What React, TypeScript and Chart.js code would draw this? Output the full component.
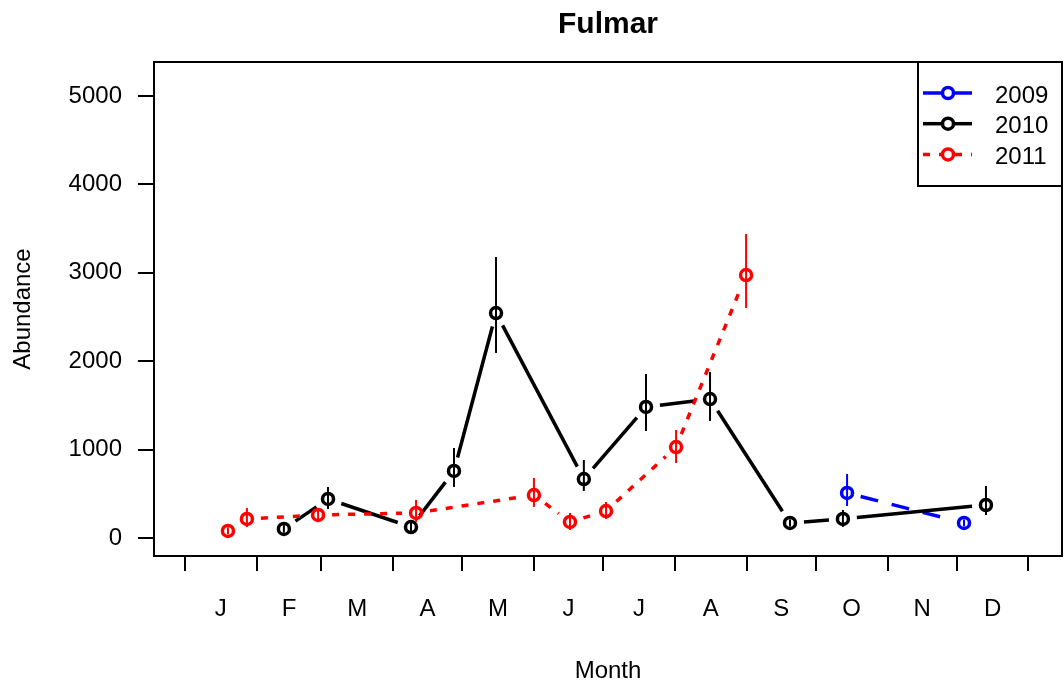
import React, { useEffect, useRef } from "react";
import { Chart, registerables } from "chart.js";

Chart.register(...registerables);

// ---- axis data ----
const monthLabels = ["J", "F", "M", "A", "M", "J", "J", "A", "S", "O", "N", "D"];
const monthStarts = [0, 31, 59, 90, 120, 151, 181, 212, 243, 273, 304, 334, 365];
const yTicks = [0, 1000, 2000, 3000, 4000, 5000];

// ---- series ----
const seriesNames = ["2009", "2010", "2011"];
const seriesColors = ["#0000FF", "#000000", "#FF0000"];

const day2009 = [286.5, 337.1];
const abund2009 = [509, 170];
const lo2009 = [362, 130];
const hi2009 = [724, 210];

const day2010 = [42.8, 61.9, 97.8, 116.4, 134.6, 172.6, 199.5, 227.2, 261.8, 284.7, 346.6];
const abund2010 = [102, 441, 124, 758, 2545, 667, 1482, 1572, 170, 215, 373];
const lo2010 = [60, 328, 80, 577, 2093, 532, 1210, 1324, 130, 125, 260];
const hi2010 = [145, 577, 170, 1018, 3179, 882, 1855, 1878, 210, 317, 588];

const day2011 = [18.6, 26.8, 57.6, 100, 151, 166.6, 182.2, 212.5, 242.8];
const abund2011 = [79, 215, 260, 283, 486, 181, 305, 1029, 2975];
const lo2011 = [40, 124, 200, 181, 351, 90, 215, 848, 2602];
const hi2011 = [120, 339, 330, 430, 679, 283, 407, 1222, 3439];

const seriesDays = [day2009, day2010, day2011];
const seriesValues = [abund2009, abund2010, abund2011];
const seriesLo = [lo2009, lo2010, lo2011];
const seriesHi = [hi2009, hi2010, hi2011];

// ---- styles ----
const FONT = "'Liberation Sans', Arial, Helvetica, sans-serif";
const lineDashes = [[18, 14], [], [7, 9]];
const LINE_W = 3.5;
const GAP = 14;
const ERR_W = 2;

const midDays = monthStarts.slice(0, 12).map((s, i) => (s + monthStarts[i + 1]) / 2);
const xTickValues = [...monthStarts, ...midDays].sort((a, b) => a - b);

const rPlotPlugin = {
  id: "rplot",
  beforeDatasetsDraw(chart: any) {
    const ctx = chart.ctx;
    chart.data.datasets.forEach((ds: any, di: number) => {
      const pts = chart.getDatasetMeta(di).data;
      ctx.save();
      ctx.strokeStyle = seriesColors[di];
      ctx.lineWidth = LINE_W;
      ctx.lineCap = "butt";
      ctx.setLineDash(lineDashes[di]);
      for (let i = 0; i < pts.length - 1; i++) {
        const a = pts[i];
        const b = pts[i + 1];
        const dx = b.x - a.x;
        const dy = b.y - a.y;
        const L = Math.hypot(dx, dy);
        if (L <= 2 * GAP) continue;
        const ux = dx / L;
        const uy = dy / L;
        ctx.beginPath();
        ctx.moveTo(a.x + ux * GAP, a.y + uy * GAP);
        ctx.lineTo(b.x - ux * GAP, b.y - uy * GAP);
        ctx.stroke();
      }
      ctx.restore();
    });
  },
  afterDatasetsDraw(chart: any) {
    const ctx = chart.ctx;
    const ys = chart.scales.y;
    chart.data.datasets.forEach((ds: any, di: number) => {
      const pts = chart.getDatasetMeta(di).data;
      ctx.save();
      ctx.strokeStyle = seriesColors[di];
      ctx.lineWidth = ERR_W;
      pts.forEach((p: any, i: number) => {
        ctx.beginPath();
        ctx.moveTo(p.x, ys.getPixelForValue(seriesLo[di][i]));
        ctx.lineTo(p.x, ys.getPixelForValue(seriesHi[di][i]));
        ctx.stroke();
      });
      ctx.restore();
    });
  },
  afterDraw(chart: any) {
    const ctx = chart.ctx;
    const { left, right, top, bottom } = chart.chartArea;
    ctx.save();
    ctx.strokeStyle = "#000";
    ctx.lineWidth = 2;
    ctx.strokeRect(left, top, right - left, bottom - top);

    // legend
    const lw = 144;
    const lh = 124;
    const lx = right - lw;
    const ly = top;
    ctx.fillStyle = "#fff";
    ctx.fillRect(lx, ly, lw, lh);
    ctx.strokeRect(lx, ly, lw, lh);
    ctx.font = `24px ${FONT}`;
    ctx.textBaseline = "middle";
    ctx.textAlign = "left";
    seriesNames.forEach((name, i) => {
      const y = ly + 31 + i * 30.7;
      const cx = lx + 30;
      ctx.strokeStyle = seriesColors[i];
      ctx.lineWidth = LINE_W;
      ctx.setLineDash(lineDashes[i]);
      ctx.beginPath();
      ctx.moveTo(lx + 5, y);
      ctx.lineTo(cx - 7, y);
      ctx.stroke();
      ctx.beginPath();
      ctx.moveTo(cx + 7, y);
      ctx.lineTo(lx + 54, y);
      ctx.stroke();
      ctx.setLineDash([]);
      ctx.lineWidth = 3.5;
      ctx.beginPath();
      ctx.arc(cx, y, 5.5, 0, Math.PI * 2);
      ctx.stroke();
      ctx.fillStyle = "#000";
      ctx.fillText(name, lx + 77, y + 3);
    });
    ctx.restore();
  },
};

export default function App() {
  const ref = useRef<HTMLCanvasElement | null>(null);
  useEffect(() => {
    if (!ref.current) return;
    Chart.defaults.font.family = FONT;
    Chart.defaults.color = "#000";
    const chart = new Chart(ref.current, {
      type: "line",
      data: {
        datasets: seriesNames.map((name, di) => ({
          label: name,
          data: seriesDays[di].map((d, i) => ({ x: d, y: seriesValues[di][i] })),
          showLine: false,
          borderColor: seriesColors[di],
          backgroundColor: "rgba(0,0,0,0)",
          pointStyle: "circle",
          pointRadius: 5.5,
          pointBorderWidth: 3.5,
          pointBorderColor: seriesColors[di],
          pointBackgroundColor: "rgba(0,0,0,0)",
        })),
      },
      options: {
        responsive: false,
        devicePixelRatio: 1,
        animation: false,
        events: [],
        layout: { autoPadding: false, padding: { left: 0, right: 2, top: 0, bottom: 0 } },
        plugins: {
          legend: { display: false },
          tooltip: { enabled: false },
          title: {
            display: true,
            text: "Fulmar",
            fullSize: false,
            font: { size: 30, weight: "bold", family: FONT },
            color: "#000",
            padding: { top: 7, bottom: 19 },
          },
        },
        scales: {
          x: {
            type: "linear",
            min: -13.4,
            max: 379.5,
            afterBuildTicks: (scale: any) => {
              scale.ticks = xTickValues.map((v) => ({ value: v }));
            },
            afterFit: (scale: any) => {
              scale.height = 130;
              scale.paddingLeft = 0;
              scale.paddingRight = 0;
            },
            border: { display: false },
            grid: {
              drawOnChartArea: false,
              drawTicks: true,
              tickLength: 15,
              lineWidth: 2,
              color: (c: any) =>
                c.tick && monthStarts.includes(c.tick.value) ? "#000" : "rgba(0,0,0,0)",
            },
            ticks: {
              autoSkip: false,
              maxRotation: 0,
              minRotation: 0,
              padding: 24,
              font: { size: 24, family: FONT },
              color: "#000",
              callback: (_v: any, i: number, ticks: any[]) => {
                const idx = midDays.indexOf(ticks[i].value);
                return idx >= 0 ? monthLabels[idx] : "";
              },
            },
            title: {
              display: true,
              text: "Month",
              font: { size: 24, family: FONT },
              color: "#000",
              padding: { top: 0, bottom: 0 },
            },
          },
          y: {
            type: "linear",
            min: -204,
            max: 5385,
            afterBuildTicks: (scale: any) => {
              scale.ticks = yTicks.map((v) => ({ value: v }));
            },
            afterFit: (scale: any) => {
              scale.width = 154;
              scale.paddingTop = 0;
              scale.paddingBottom = 0;
            },
            border: { display: false },
            grid: {
              drawOnChartArea: false,
              drawTicks: true,
              tickLength: 16,
              lineWidth: 2,
              color: "#000",
            },
            ticks: {
              padding: 16,
              font: { size: 24, family: FONT },
              color: "#000",
              callback: (v: any) => String(v),
            },
            title: {
              display: true,
              text: "Abundance",
              font: { size: 24, family: FONT },
              color: "#000",
              padding: { top: 9, bottom: 0 },
            },
          },
        },
      },
      plugins: [rPlotPlugin],
    } as any);
    return () => chart.destroy();
  }, []);
  return (
    <div style={{ position: "fixed", left: 0, top: 0, width: 1064, height: 686, background: "#fff" }}>
      <canvas ref={ref} width={1064} height={686} style={{ display: "block", width: 1064, height: 686 }} />
    </div>
  );
}
